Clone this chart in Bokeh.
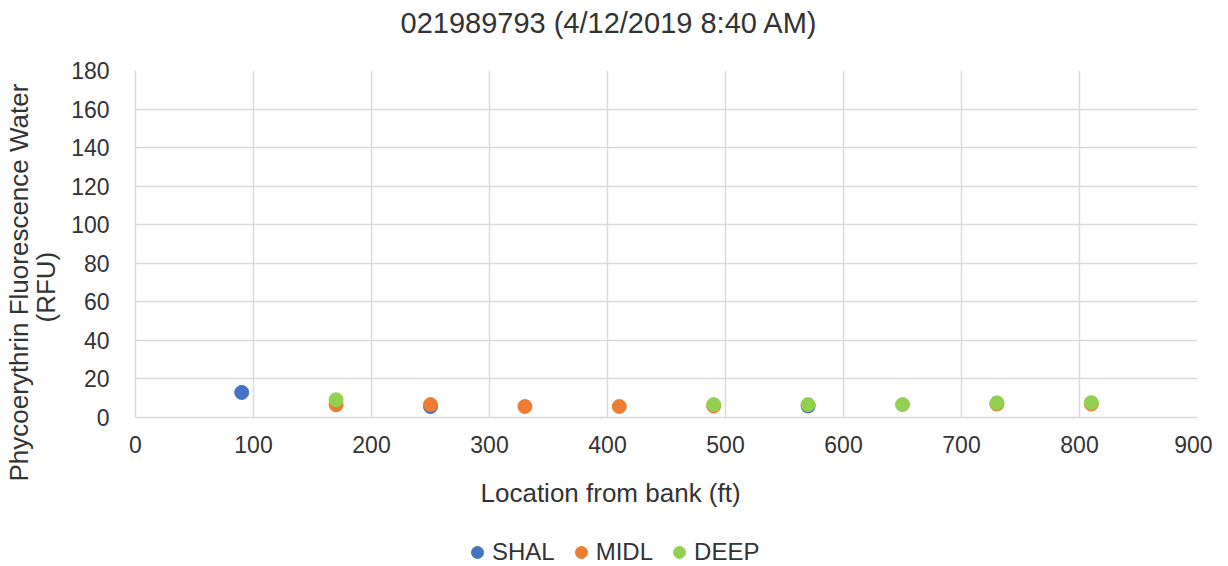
from bokeh.plotting import figure
from bokeh.layouts import column
from bokeh.models import Legend, LegendItem, Range1d, FixedTicker, Title
from bokeh.embed import file_html
from bokeh.resources import INLINE

title = "021989793 (4/12/2019 8:40 AM)"
x_label = "Location from bank (ft)"
y_label_1 = "Phycoerythrin Fluorescence Water"
y_label_2 = "(RFU)"

series_names = ["SHAL", "MIDL", "DEEP"]
series_colors = ["#4472C4", "#ED7D31", "#92D050"]

shal_x = [90, 250, 570]
shal_y = [13, 5.7, 6.0]
midl_x = [170, 250, 330, 410, 490, 730, 810]
midl_y = [6.6, 6.7, 5.7, 5.7, 6.0, 7.0, 7.0]
deep_x = [170, 490, 570, 650, 730, 810]
deep_y = [9.2, 6.7, 6.7, 6.7, 7.6, 7.7]

x_ticks = [0, 100, 200, 300, 400, 500, 600, 700, 800, 900]
y_ticks = [0, 20, 40, 60, 80, 100, 120, 140, 160, 180]

FONT = "Liberation Sans"
TXT = "#333333"
GRID = "#d9d9d9"

p = figure(frame_width=1062, frame_height=347, output_backend="svg", toolbar_location=None,
           x_range=Range1d(0, 900), y_range=Range1d(0, 180), title=None)
p.title = None
p.min_border_left = 135
p.min_border_right = 15
p.min_border_top = 70
p.min_border_bottom = 115
p.outline_line_color = None

def make_title(text, align, offset, standoff, size):
    return Title(text=text, align=align, offset=offset, standoff=standoff,
                 text_font=FONT, text_font_size=size, text_font_style="normal",
                 text_color=TXT)

# spacer between the plot area and the chart title
p.add_layout(make_title(" ", "left", 0, 0, "26px"), "above")
p.add_layout(make_title(title, "left", 265, 0, "29px"), "above")

for ax in (p.xaxis[0], p.yaxis[0]):
    ax.axis_line_color = GRID
    ax.axis_line_width = 1.5
    ax.major_tick_line_color = None
    ax.minor_tick_line_color = None
    ax.major_label_text_font = FONT
    ax.major_label_text_font_size = "23px"
    ax.major_label_text_color = TXT

p.xaxis.ticker = FixedTicker(ticks=x_ticks)
p.yaxis.ticker = FixedTicker(ticks=y_ticks)
p.xaxis.major_label_standoff = 12
p.yaxis.major_label_standoff = 20

p.xgrid.grid_line_color = GRID
p.ygrid.grid_line_color = GRID
p.xgrid.grid_line_width = 1.5
p.ygrid.grid_line_width = 1.5

p.add_layout(make_title(y_label_2, "left", 95, 16, "26px"), "left")
p.add_layout(make_title(y_label_1, "left", -64, -26, "26px"), "left")
p.add_layout(make_title(x_label, "left", 345, 40, "26px"), "below")

p.scatter(shal_x, shal_y, size=14, color=series_colors[0])
p.scatter(midl_x, midl_y, size=14, color=series_colors[1])
p.scatter(deep_x, deep_y, size=14, color=series_colors[2])

# legend strip below the chart; its renderers reuse one point of each series,
# which lies outside this strip's ranges and so is not drawn there
lg = figure(width=1212, height=36, output_backend="svg", toolbar_location=None,
            x_range=Range1d(0, 1), y_range=Range1d(0, 1), title=None)
lg.title = None
lg.axis.visible = False
lg.grid.visible = False
lg.outline_line_color = None
lg.min_border = 0
items = []
for name, color, xs, ys in zip(series_names, series_colors,
                               [shal_x, midl_x, deep_x], [shal_y, midl_y, deep_y]):
    r = lg.scatter(x=xs[:1], y=ys[:1], size=14, color=color)
    items.append(LegendItem(label=name, renderers=[r]))

legend = Legend(items=items, orientation="horizontal", location=(327, 1),
                border_line_color=None, background_fill_alpha=0,
                label_text_font=FONT, label_text_font_size="24px",
                label_text_color=TXT, glyph_width=30, glyph_height=30,
                label_standoff=0, spacing=11, padding=2, margin=0)
lg.add_layout(legend, "center")

layout = column(p, lg, spacing=0)
open("out.html", "w").write(file_html(layout, INLINE))
